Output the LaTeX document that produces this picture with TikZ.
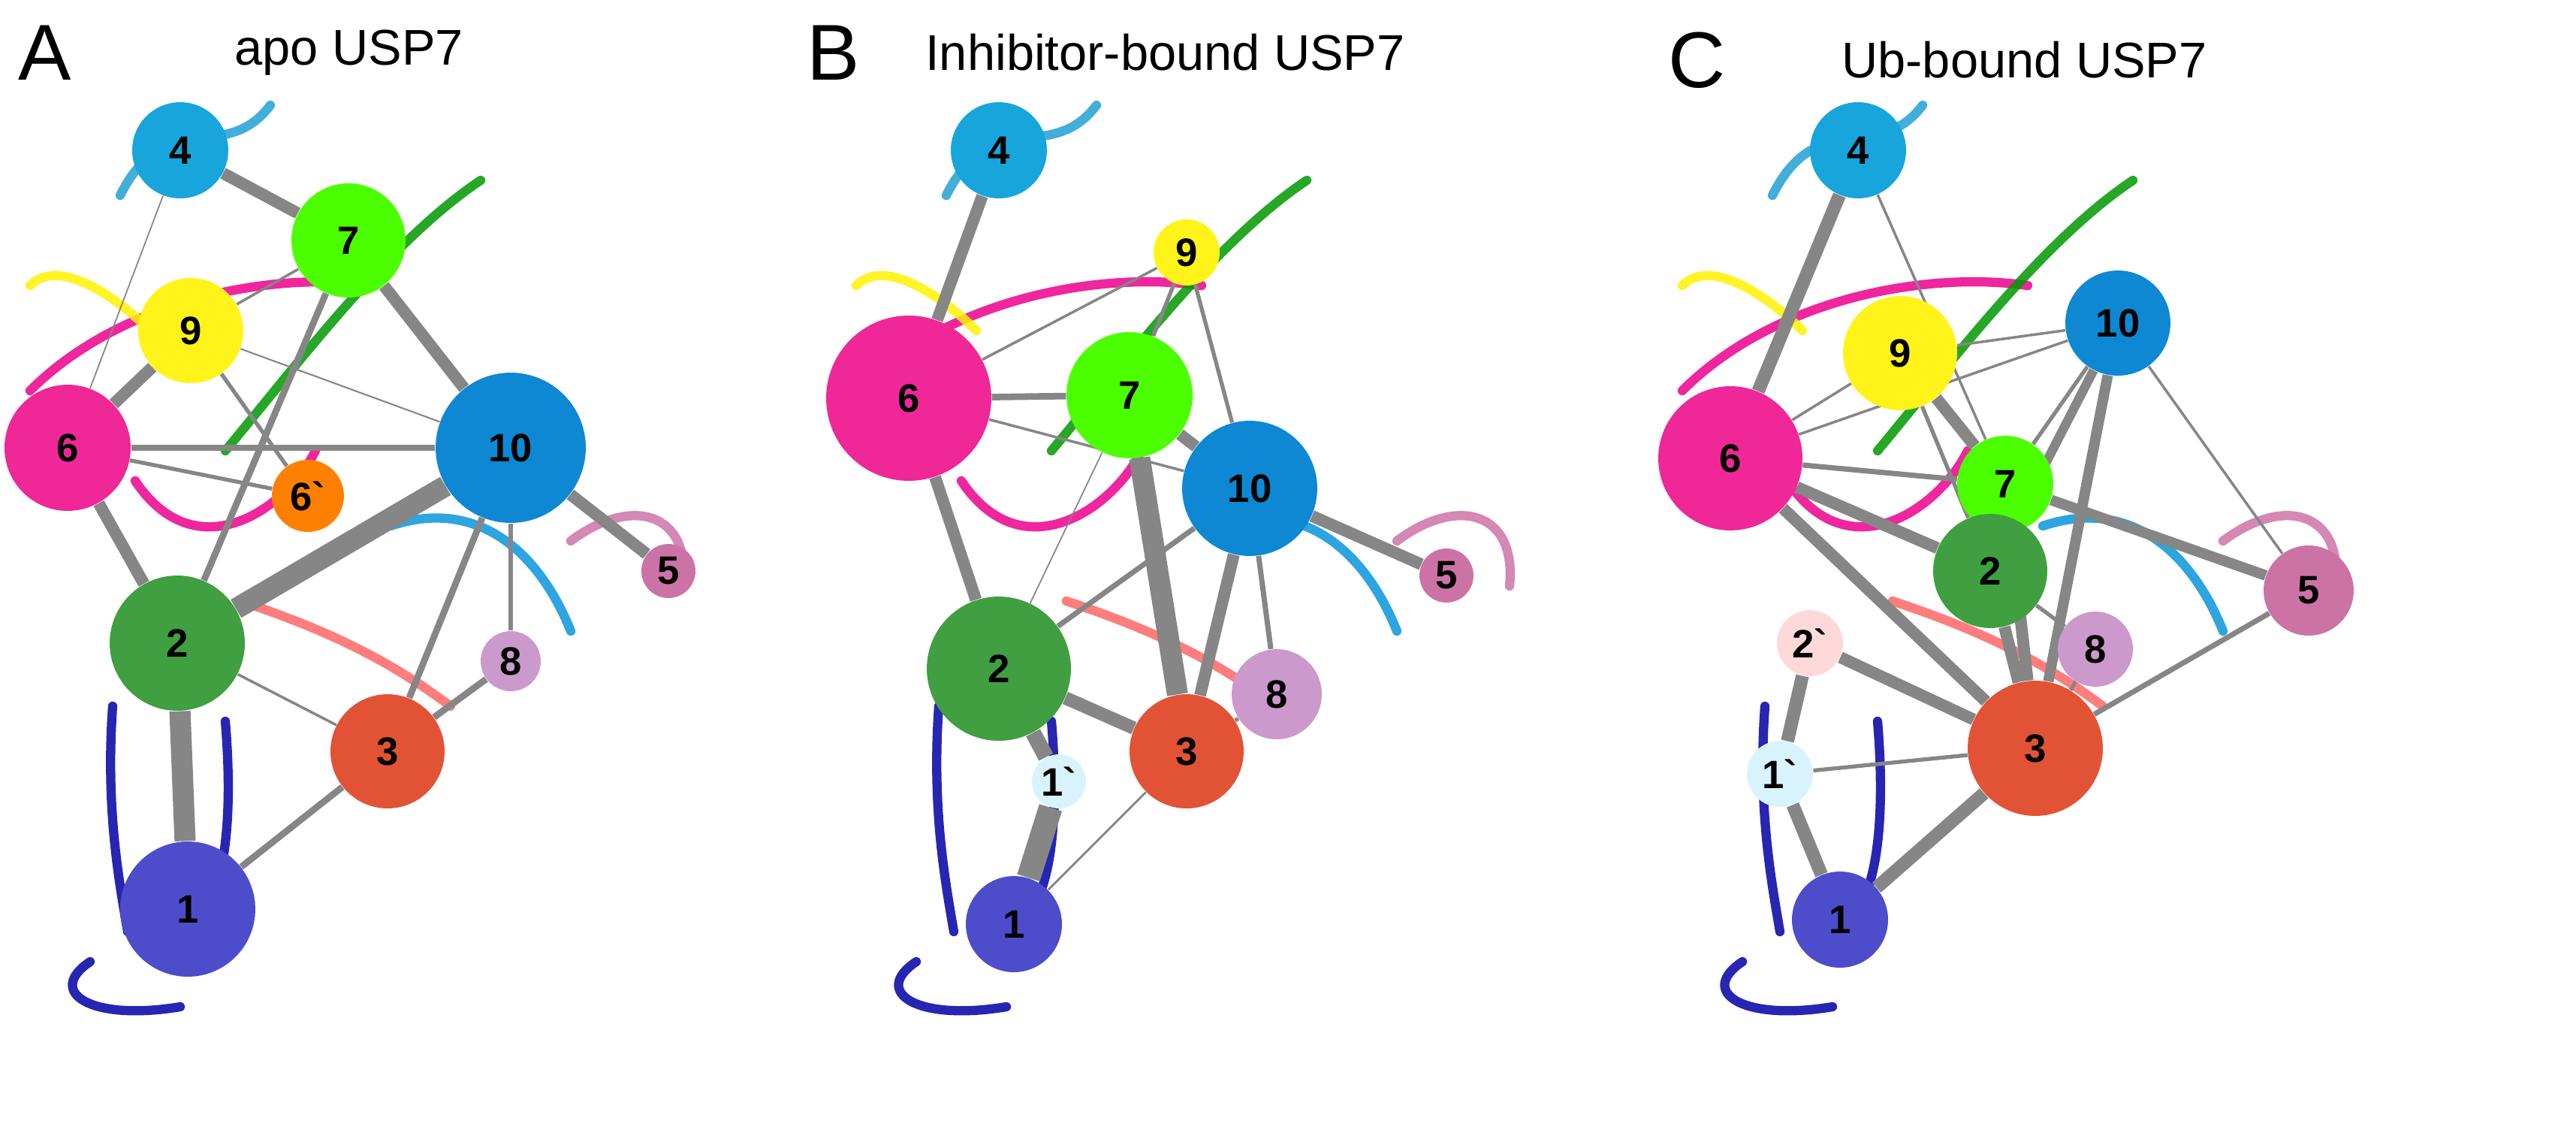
\documentclass[tikz,border=0pt]{standalone}
\usepackage{fontspec}
\setmainfont{Liberation Sans}
\usetikzlibrary{backgrounds}
\begin{document}
\begin{tikzpicture}[x=0.02cm,y=-0.02cm,
  nd/.style={circle,minimum size=#1*0.04cm,inner sep=0pt,font=\bfseries\fontsize{15}{15}\selectfont},
  e/.style={draw=gray!95,line width=#1pt},
  rib/.style={line width=3.5pt,line cap=round,opacity=0.85},
  ttl/.style={font=\fontsize{19}{19}\selectfont,anchor=west},
  pl/.style={font=\fontsize{30}{30}\selectfont}]
\useasboundingbox (0,0) rectangle (1715,759.5);
\node[pl] (pA) at (30,35) {A};
\node[ttl] (tA) at (150,35) {apo USP7};
\node[pl] (pB) at (555,35) {B};
\node[ttl] (tB) at (610,35) {Inhibitor-bound USP7};
\node[pl] (pC) at (1130,40) {C};
\node[ttl] (tC) at (1220,40) {Ub-bound USP7};
\node[nd=32,fill=cyan!80!teal] (a4) at (120,100) {4};
\node[nd=38,fill=green!60!lime] (a7) at (232,160) {7};
\node[nd=35,fill=yellow!90!white] (a9) at (127,220) {9};
\node[nd=42,fill=magenta!80!pink] (a6) at (45,298) {6};
\node[nd=50,fill=cyan!70!blue] (a10) at (340,298) {10};
\node[nd=24,fill=orange] (a6b) at (205,330) {6\textasciigrave};
\node[nd=18,fill=violet!40!pink] (a5) at (445,380) {5};
\node[nd=45,fill=green!50!black!75] (a2) at (118,428) {2};
\node[nd=20,fill=violet!40] (a8) at (340,440) {8};
\node[nd=38,fill=red!50!brown!90] (a3) at (258,500) {3};
\node[nd=45,fill=blue!55!gray!90] (a1) at (125,605) {1};
\node[nd=32,fill=cyan!80!teal] (b4) at (665,100) {4};
\node[nd=22,fill=yellow!90!white] (b9) at (790,168) {9};
\node[nd=55,fill=magenta!80!pink] (b6) at (605,265) {6};
\node[nd=42,fill=green!60!lime] (b7) at (752,263) {7};
\node[nd=45,fill=cyan!70!blue] (b10) at (832,325) {10};
\node[nd=18,fill=violet!40!pink] (b5) at (963,383) {5};
\node[nd=48,fill=green!50!black!75] (b2) at (665,445) {2};
\node[nd=30,fill=violet!40] (b8) at (850,462) {8};
\node[nd=18,fill=cyan!15] (b1b) at (705,520) {1\textasciigrave};
\node[nd=38,fill=red!50!brown!90] (b3) at (790,500) {3};
\node[nd=32,fill=blue!55!gray!90] (b1) at (675,615) {1};
\node[nd=32,fill=cyan!80!teal] (c4) at (1237,100) {4};
\node[nd=38,fill=yellow!90!white] (c9) at (1265,235) {9};
\node[nd=35,fill=cyan!70!blue] (c10) at (1410,215) {10};
\node[nd=32,fill=green!60!lime] (c7) at (1335,322) {7};
\node[nd=48,fill=magenta!80!pink] (c6) at (1152,305) {6};
\node[nd=38,fill=green!50!black!75] (c2) at (1325,380) {2};
\node[nd=30,fill=violet!40!pink] (c5) at (1537,393) {5};
\node[nd=25,fill=violet!40] (c8) at (1395,432) {8};
\node[nd=22,fill=pink!60] (c2b) at (1205,428) {2\textasciigrave};
\node[nd=45,fill=red!50!brown!90] (c3) at (1355,498) {3};
\node[nd=22,fill=cyan!15] (c1b) at (1185,515) {1\textasciigrave};
\node[nd=32,fill=blue!55!gray!90] (c1) at (1225,612) {1};
\begin{scope}[on background layer]
\foreach \dx in {0,550,1100}{
 \draw[rib,blue!65!black] (75+\dx,470) .. controls (70+\dx,540) and (80+\dx,590) .. (85+\dx,620);
 \draw[rib,blue!65!black] (150+\dx,480) .. controls (155+\dx,540) and (150+\dx,580) .. (140+\dx,600);
 \draw[rib,blue!65!black] (60+\dx,640) .. controls (30+\dx,660) and (60+\dx,680) .. (120+\dx,670);
 \draw[rib,cyan!70!teal] (80+\dx,130) .. controls (110+\dx,70) and (150+\dx,110) .. (180+\dx,70);
 \draw[rib,magenta] (20+\dx,260) .. controls (80+\dx,200) and (180+\dx,180) .. (250+\dx,190);
 \draw[rib,magenta] (90+\dx,320) .. controls (130+\dx,380) and (190+\dx,340) .. (210+\dx,300);
 \draw[rib,red!60] (160+\dx,400) .. controls (220+\dx,420) and (260+\dx,440) .. (300+\dx,470);
 \draw[rib,cyan!80!blue] (260+\dx,350) .. controls (320+\dx,330) and (360+\dx,370) .. (380+\dx,420);
 \draw[rib,green!60!black] (150+\dx,300) .. controls (200+\dx,240) and (260+\dx,160) .. (320+\dx,120);
 \draw[rib,violet!40!pink] (380+\dx,360) .. controls (420+\dx,330) and (460+\dx,340) .. (455+\dx,390);
 \draw[rib,yellow] (20+\dx,190) .. controls (40+\dx,170) and (80+\dx,200) .. (100+\dx,220);
}
\draw[e=4.5] (a4)--(a7); \draw[e=4.5] (a7)--(a10); \draw[e=2.5] (a7)--(a2);
\draw[e=4.5] (a9)--(a6); \draw[e=4.5] (a6)--(a2); \draw[e=2] (a6)--(a10);
\draw[e=1.5] (a6)--(a6b); \draw[e=8] (a2)--(a10); \draw[e=8] (a2)--(a1);
\draw[e=4.5] (a10)--(a5); \draw[e=2.5] (a10)--(a3); \draw[e=1.5] (a10)--(a8);
\draw[e=2.5] (a1)--(a3); \draw[e=1] (a2)--(a3); \draw[e=2.5] (a3)--(a8);
\draw[e=0.6] (a9)--(a10); \draw[e=1.5] (a9)--(a6b); \draw[e=0.5] (a4)--(a6);
\draw[e=1] (a9)--(a7);
\draw[e=4.5] (b4)--(b6); \draw[e=2.5] (b6)--(b7); \draw[e=4.5] (b6)--(b2);
\draw[e=1] (b6)--(b10); \draw[e=1] (b6)--(b9); \draw[e=1.5] (b7)--(b9);
\draw[e=1.5] (b9)--(b10); \draw[e=8] (b7)--(b3); \draw[e=4.5] (b7)--(b10);
\draw[e=4.5] (b10)--(b5); \draw[e=2] (b10)--(b2); \draw[e=4.5] (b10)--(b3);
\draw[e=2] (b10)--(b8); \draw[e=5] (b2)--(b3); \draw[e=6] (b2)--(b1b);
\draw[e=9] (b1b)--(b1); \draw[e=0.8] (b1)--(b3); \draw[e=1.5] (b3)--(b8);
\draw[e=0.5] (b2)--(b7);
\draw[e=5] (c4)--(c6); \draw[e=1] (c4)--(c7); \draw[e=1] (c6)--(c9);
\draw[e=2] (c6)--(c7); \draw[e=4.5] (c6)--(c2); \draw[e=4.5] (c6)--(c3);
\draw[e=4.5] (c9)--(c7); \draw[e=1.5] (c9)--(c2); \draw[e=1.5] (c10)--(c7);
\draw[e=3.5] (c10)--(c2); \draw[e=4] (c10)--(c3); \draw[e=1] (c10)--(c5);
\draw[e=4.5] (c7)--(c3); \draw[e=4] (c7)--(c5); \draw[e=4.5] (c2)--(c3);
\draw[e=2] (c3)--(c5); \draw[e=1.5] (c3)--(c8); \draw[e=5] (c2b)--(c1b);
\draw[e=5] (c1b)--(c1); \draw[e=5] (c1)--(c3); \draw[e=1.5] (c1b)--(c3);
\draw[e=1.5] (c2)--(c8); \draw[e=4.5] (c2b)--(c3); \draw[e=1] (c9)--(c10);
\draw[e=1] (c6)--(c10);
\end{scope}
\end{tikzpicture}
\end{document}
